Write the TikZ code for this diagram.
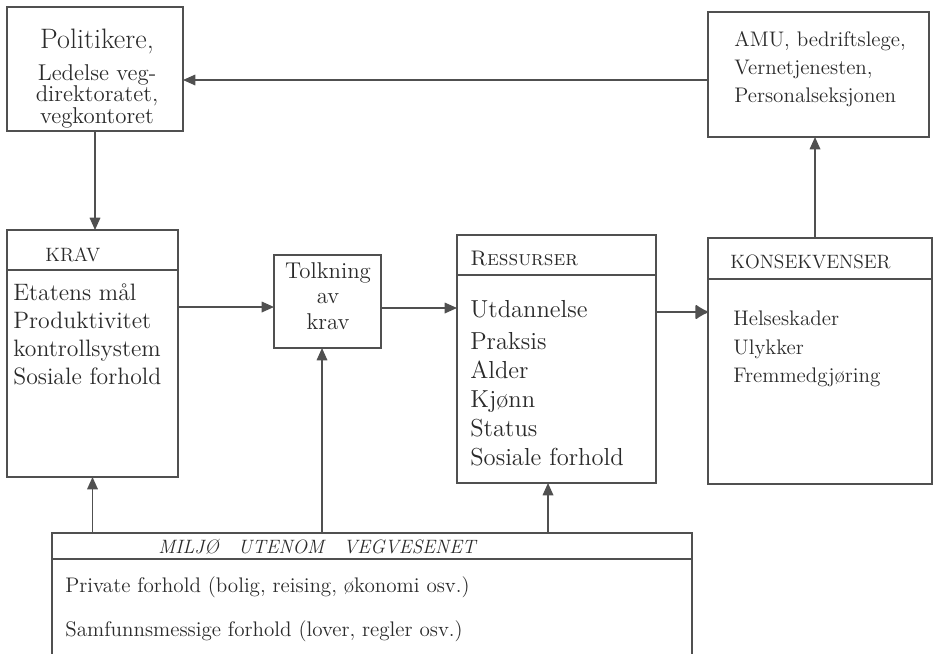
\documentclass[tikz,border=0pt]{standalone}
\usetikzlibrary{arrows.meta,calc}
\definecolor{ink}{HTML}{505050}
\definecolor{pen}{HTML}{2A2A2A}

\begin{document}
\begin{tikzpicture}[x=0.02cm,y=-0.02cm,
	box/.style={draw=ink, line width=1pt, inner sep=0pt, outer sep=0pt},
	arr/.style={draw=ink, line width=0.9pt, -{Triangle[length=7pt,width=6pt]}},
	roundarr/.style={draw=ink, line width=0.9pt, -{Latex[round,length=8pt,width=9pt]}},
	txt/.style={text=pen, inner sep=0pt, align=left, font=\fontsize{14}{16}\selectfont}]
	
	\clip (0,0) rectangle (935,653);
	\fill [white] (0,0) rectangle (935,653);
	
	% boxes
	\node [box, minimum width=3.52cm, minimum height=2.48cm] (pol) at (95,69) {};
	\node [box, minimum width=4.42cm, minimum height=2.50cm] (amu) at (818.5,74.5) {};
	\node [box, minimum width=3.42cm, minimum height=4.94cm] (krav) at (92.5,353.5) {};
	\node [box, minimum width=2.14cm, minimum height=1.86cm] (tolk) at (327.5,301.5) {};
	\node [box, minimum width=3.98cm, minimum height=4.96cm] (res) at (556.5,359) {};
	\node [box, minimum width=4.48cm, minimum height=4.92cm] (kon) at (820,361) {};
	\node [box, minimum width=12.8cm, minimum height=2.94cm] (mil) at (372,606.5) {};
	
	% header lines
	\draw [ink, line width=1pt] ($(krav.north west)+(0,40)$) -- ($(krav.north east)+(0,40)$);
	\draw [ink, line width=1pt] ($(res.north west)+(0,40)$) -- ($(res.north east)+(0,40)$);
	\draw [ink, line width=1pt] ($(kon.north west)+(0,41)$) -- ($(kon.north east)+(0,41)$);
	\draw [ink, line width=1pt] ($(mil.north west)+(0,26)$) -- ($(mil.north east)+(0,26)$);
	
	% texts
	\node [txt, align=center, anchor=north, font=\fontsize{13}{12.3}\selectfont] (poltxt) at (97,29)
		{{\fontsize{16}{12.3}\selectfont Politikere,}\\[5.5pt] Ledelse veg-\\ direktoratet,\\ vegkontoret};
	\node [txt, anchor=north west, font=\fontsize{12}{16}\selectfont] (amutxt) at (734,31)
		{AMU, bedriftslege,\\ Vernetjenesten,\\ Personalseksjonen};
	\node [txt, anchor=base west, font=\fontsize{11}{13}\selectfont] (kravhd) at (45,261) {KRAV};
	\node [txt, anchor=north west, font=\fontsize{13.5}{16}\selectfont] (kravtxt) at (13,283)
		{Etatens mål\\ Produktivitet\\ kontrollsystem\\ Sosiale forhold};
	\node [txt, align=center, anchor=north, font=\fontsize{13}{14.5}\selectfont] (tolktxt) at (328,262)
		{Tolkning\\ av\\ krav};
	\node [txt, anchor=base west, font=\fontsize{12}{14}\selectfont] (reshd) at (470,265) {\textsc{Ressurser}};
	\node [txt, anchor=north west, font=\fontsize{14}{16.5}\selectfont] (restxt) at (470,300)
		{Utdannelse\\[2pt] Praksis\\ Alder\\ Kjønn\\ Status\\ Sosiale forhold};
	\node [txt, anchor=base west, font=\fontsize{11}{13}\selectfont] (konhd) at (730,268) {KONSEKVENSER};
	\node [txt, anchor=north west, font=\fontsize{12}{16}\selectfont] (kontxt) at (733,311)
		{Helseskader\\ Ulykker\\ Fremmedgjøring};
	\node [txt, anchor=base, font=\fontsize{11}{13}\itshape] (milhd) at (317,553)
		{MILJØ\quad UTENOM\quad VEGVESENET};
	\node [txt, anchor=north west, font=\fontsize{12}{14}\selectfont] (miltxt) at (65,576)
		{Private forhold (bolig, reising, økonomi osv.)\\[11pt] Samfunnsmessige forhold (lover, regler osv.)};
	
	% connectors
	\coordinate (amuout) at ($(amu.west)+(0,5.5)$);
	\coordinate (konout) at ($(kon.north)+(-5,0)$);
	\coordinate (kravout) at ($(krav.east)+(0,-46.5)$);
	\coordinate (tolkout) at ($(tolk.east)+(0,6.5)$);
	\coordinate (resout) at ($(res.east)+(0,-47)$);
	\coordinate (miltolk) at ($(tolk.south)+(-5.5,0)$);
	\coordinate (milres) at ($(res.south)+(-8.5,0)$);
	
	\draw [arr] (amuout) -- (amuout -| pol.east);
	\draw [arr] (pol.south) -- (pol.south |- krav.north);
	\draw [arr] (kravout) -- (kravout -| tolk.west);
	\draw [arr] (tolkout) -- (tolkout -| res.west);
	\draw [roundarr] (resout) -- (resout -| kon.west);
	\draw [arr] (konout) -- (konout |- amu.south);
	\draw [arr] (krav.south |- mil.north) -- (krav.south);
	\draw [arr] (miltolk |- mil.north) -- (miltolk);
	\draw [arr] (milres |- mil.north) -- (milres);
	
\end{tikzpicture}
\end{document}
